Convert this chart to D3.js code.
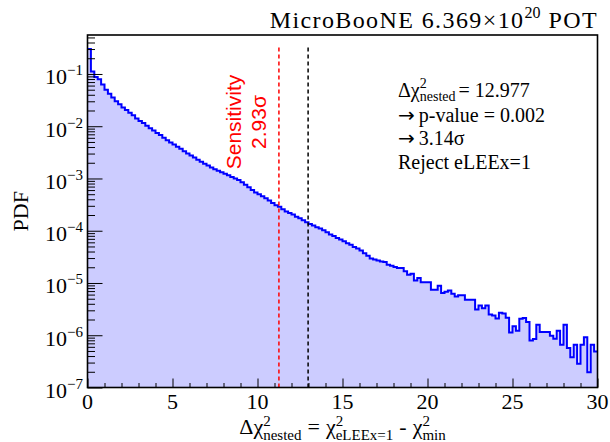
<!DOCTYPE html>
<meta charset="utf-8">
<style>
    body { margin: 0; background: #fff; }
    svg text { font-family: "Liberation Serif", "Times New Roman", serif; fill: #000; }
    .ticks line { stroke: #000; stroke-width: 1px; }
    .ticks path { display: none; }
</style>
<svg width="610" height="442"></svg>
<script src="https://cdn.jsdelivr.net/npm/d3@7/dist/d3.min.js"></script>
<script>

    // histogram: 150 bins of 0.2 from 0 to 30
    var binWidth = 0.2;
    var pdfValues = [
        0.302, 0.112, 0.0871, 0.0794, 0.0631, 0.0501, 0.0417, 0.0355, 0.0302, 0.0263,
        0.0229, 0.0204, 0.0182, 0.0162, 0.0141, 0.0126, 0.0115, 0.0102, 0.00912, 0.00832,
        0.00741, 0.00676, 0.00603, 0.00537, 0.00490, 0.00447, 0.00407, 0.00372, 0.00331, 0.00302,
        0.00275, 0.00251, 0.00229, 0.00209, 0.00191, 0.00178, 0.00162, 0.00151, 0.00141, 0.00132,
        0.00123, 0.00115, 0.00107, 0.00100, 9.33e-4, 8.51e-4, 7.59e-4, 6.76e-4, 6.03e-4, 5.37e-4,
        5.01e-4, 4.57e-4, 4.17e-4, 3.80e-4, 3.39e-4, 3.09e-4, 2.88e-4, 2.57e-4, 2.34e-4, 2.19e-4,
        2.04e-4, 1.86e-4, 1.74e-4, 1.58e-4, 1.45e-4, 1.35e-4, 1.26e-4, 1.17e-4, 1.10e-4, 1.02e-4,
        9.33e-5, 8.51e-5, 7.94e-5, 7.24e-5, 6.76e-5, 6.31e-5, 5.75e-5, 5.37e-5, 4.90e-5, 4.57e-5,
        4.17e-5, 3.72e-5, 3.31e-5, 2.95e-5, 2.82e-5, 2.69e-5, 2.59e-5, 2.52e-5, 2.24e-5, 2.14e-5,
        2.02e-5, 1.93e-5, 1.93e-5, 1.67e-5, 1.44e-5, 1.51e-5, 1.11e-5, 1.24e-5, 1.03e-5, 1.03e-5,
        1.03e-5, 7.4e-6, 7.4e-6, 8.9e-6, 6.4e-6, 6.8e-6, 7.2e-6, 6.2e-6, 5.5e-6, 5.8e-6,
        5.8e-6, 4.8e-6, 4.8e-6, 4.8e-6, 3.1e-6, 3.7e-6, 3.3e-6, 3.7e-6, 2.5e-6, 2.4e-6,
        2.1e-6, 2.7e-6, 2.6e-6, 2.16e-6, 1.13e-6, 1.48e-6, 1.22e-6, 2.07e-6, 2.14e-6, 1.79e-6,
        7.9e-7, 8.5e-7, 1.59e-6, 1.15e-6, 1.15e-6, 1.15e-6, 9.8e-7, 8.6e-7, 1.22e-6, 6.6e-7,
        1.59e-6, 5.7e-7, 3.8e-7, 6.6e-7, 2.85e-7, 6.6e-7, 9.2e-7, 1.95e-7, 6.6e-7, 4.9e-7
    ];
    var xRange = [0, 30];
    var yRange = [1e-7, 0.557];
    var xMajorTicks = [0, 5, 10, 15, 20, 25, 30];
    var yDecades = [-7, -6, -5, -4, -3, -2, -1];
    var sensitivityX = 11.26;
    var observedX = 12.977;
    var lineTop = 0.33;
    var resultLines = [["\u2192", "p-value = 0.002"], ["\u2192", "3.14\u03c3"], ["", "Reject eLEEx=1"]];

    var svg = d3.select("svg");
    var plotL = 87.5, plotR = 597.5, plotT = 35, plotB = 387.5;

    var x = d3.scaleLinear().domain(xRange).range([plotL, plotR]);
    var y = d3.scaleLog().domain(yRange).range([plotB, plotT]);

    // lays out pieces of text one after another, super/subscripts may stack
    function richText(parent, px, py, parts, anchor) {
        var g = parent.append("g");
        var cx = 0, lastStart = 0;
        parts.forEach(function (p) {
            var sx = p.stack ? lastStart : cx + (p.gap || 0);
            var t = g.append("text")
                .attr("x", sx)
                .attr("y", p.dy || 0)
                .style("font-size", p.size + "px")
                .text(p.t);
            if (p.family) t.style("font-family", p.family);
            if (p.spacing) t.style("letter-spacing", p.spacing + "px");
            var w = t.node().getComputedTextLength();
            if (!p.stack) lastStart = sx;
            cx = Math.max(cx, sx + w);
        });
        var shift = anchor === "end" ? -cx : anchor === "middle" ? -cx / 2 : 0;
        g.attr("transform", "translate(" + (px + shift) + "," + py + ")");
        return g;
    }

    // filled histogram
    var bins = pdfValues.map(function (v, i) {
        return {x0: i * binWidth, v: v};
    });
    var stepPts = bins.concat([{x0: xRange[1], v: pdfValues[pdfValues.length - 1]}]);

    var area = d3.area()
        .curve(d3.curveStepAfter)
        .x(function (d) { return x(d.x0); })
        .y0(plotB)
        .y1(function (d) { return y(d.v); });

    svg.append("path")
        .datum(stepPts)
        .attr("d", area)
        .attr("fill", "#ccccff");

    var outline = d3.line()
        .curve(d3.curveStepAfter)
        .x(function (d) { return x(d.x0); })
        .y(function (d) { return y(d.v); });

    svg.append("path")
        .datum(stepPts)
        .attr("d", outline)
        .attr("fill", "none")
        .attr("stroke", "#0000ff")
        .attr("stroke-width", 2);

    // vertical dashed lines
    [[sensitivityX, "#ff0000"], [observedX, "#000000"]].forEach(function (d) {
        svg.append("line")
            .attr("x1", x(d[0])).attr("x2", x(d[0]))
            .attr("y1", y(yRange[0])).attr("y2", y(lineTop))
            .attr("stroke", d[1])
            .attr("stroke-width", 1.5)
            .attr("stroke-dasharray", "4,3");
    });

    // ticks (inside the frame)
    var xMinor = d3.range(xRange[0], xRange[1] + 1, 1).filter(function (v) { return v % 5 !== 0; });
    svg.append("g").attr("class", "ticks")
        .attr("transform", "translate(0," + plotB + ")")
        .call(d3.axisTop(x).tickValues(xMinor).tickSize(4.5).tickFormat(""));
    svg.append("g").attr("class", "ticks")
        .attr("transform", "translate(0," + plotB + ")")
        .call(d3.axisTop(x).tickValues(xMajorTicks).tickSize(9).tickFormat(""));

    var yAll = y.ticks();
    var yMajor = yDecades.map(function (e) { return Math.pow(10, e); });
    var yMinor = yAll.filter(function (v) {
        var l = Math.log10(v);
        return Math.abs(l - Math.round(l)) > 1e-6;
    });
    svg.append("g").attr("class", "ticks")
        .attr("transform", "translate(" + plotL + ",0)")
        .call(d3.axisRight(y).tickValues(yMinor).tickSize(7.5).tickFormat(""));
    svg.append("g").attr("class", "ticks")
        .attr("transform", "translate(" + plotL + ",0)")
        .call(d3.axisRight(y).tickValues(yMajor).tickSize(15).tickFormat(""));

    // frame
    svg.append("rect")
        .attr("x", plotL).attr("y", plotT)
        .attr("width", plotR - plotL).attr("height", plotB - plotT)
        .attr("fill", "none")
        .attr("stroke", "#000")
        .attr("stroke-width", 1.6);

    // tick labels
    xMajorTicks.forEach(function (v) {
        svg.append("text")
            .attr("x", x(v)).attr("y", 409)
            .attr("text-anchor", "middle")
            .style("font-size", "22px")
            .text(v);
    });
    yDecades.forEach(function (e) {
        richText(svg, 83, y(Math.pow(10, e)) + 10.5, [
            {t: "10", size: 22},
            {t: "\u2212" + Math.abs(e), size: 15, dy: -9}
        ], "end");
    });

    // axis titles
    svg.append("text")
        .attr("transform", "translate(28," + ((plotT + plotB) / 2) + ") rotate(-90)")
        .attr("text-anchor", "middle")
        .style("font-size", "22px")
        .text("PDF");

    richText(svg, (plotL + plotR) / 2, 434, [
        {t: "\u0394\u03c7", size: 22},
        {t: "2", size: 15, dy: -8},
        {t: "nested", size: 15, dy: 6, stack: true},
        {t: "=", size: 22, gap: 6},
        {t: "\u03c7", size: 22, gap: 6},
        {t: "2", size: 15, dy: -8},
        {t: "eLEEx=1", size: 15, dy: 6, stack: true},
        {t: "-", size: 22, gap: 6},
        {t: "\u03c7", size: 22, gap: 6},
        {t: "2", size: 15, dy: -8},
        {t: "min", size: 15, dy: 6, stack: true}
    ], "middle");

    // title
    richText(svg, 598, 28, [
        {t: "MicroBooNE 6.369\u00d710", size: 24, spacing: 1.4},
        {t: "20", size: 16, dy: -10},
        {t: "POT", size: 24, gap: 8, spacing: 1.4}
    ], "end");

    // sensitivity label
    var sens = svg.append("g")
        .attr("transform", "translate(0,122)");
    [["Sensitivity", 241], ["2.93\u03c3", 266]].forEach(function (d) {
        sens.append("text")
            .attr("transform", "translate(" + d[1] + ",0) rotate(-90)")
            .attr("text-anchor", "middle")
            .style("font-family", "'Liberation Sans', Arial, sans-serif")
            .style("font-size", "21px")
            .style("fill", "#ff0000")
            .text(d[0]);
    });

    // result text
    richText(svg, 398, 97, [
        {t: "\u0394\u03c7", size: 20},
        {t: "2", size: 14, dy: -9},
        {t: "nested", size: 14, dy: 4, stack: true},
        {t: "= 12.977", size: 20, gap: 3}
    ], "start");
    resultLines.forEach(function (s, i) {
        var parts = [];
        if (s[0]) parts.push({t: s[0], size: 20, family: "'DejaVu Sans', sans-serif"});
        parts.push({t: s[1], size: 20, gap: s[0] ? 4 : 0});
        richText(svg, 398, 122 + i * 23.4, parts, "start");
    });

</script>
